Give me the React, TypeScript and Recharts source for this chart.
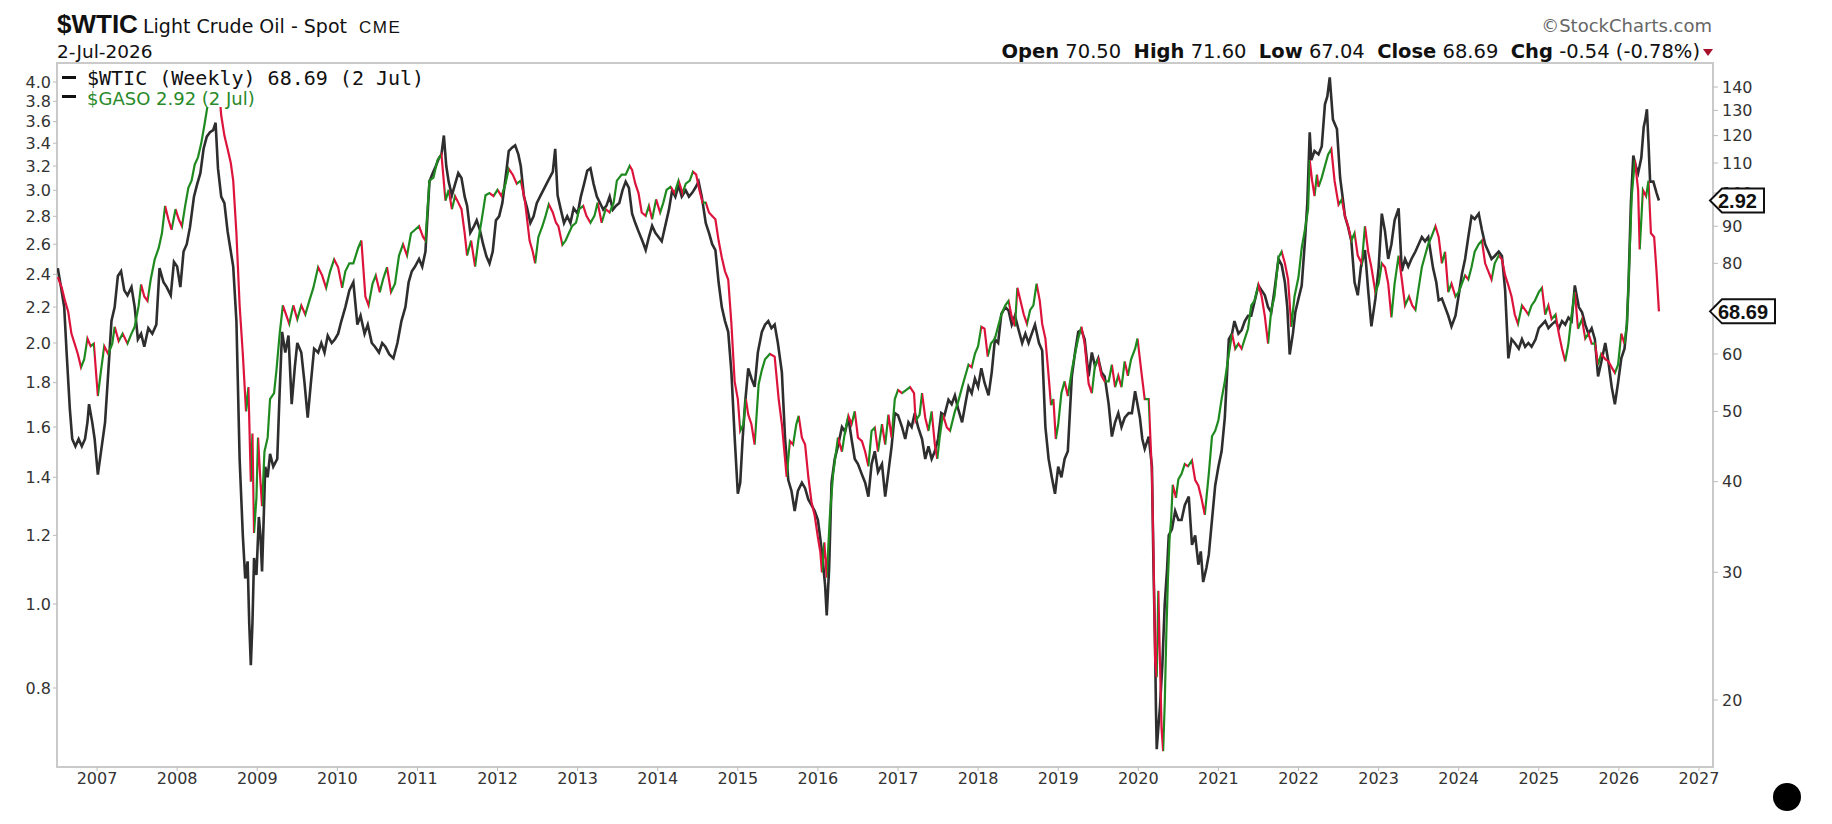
import React from 'react';
import { LineChart, Line, XAxis, YAxis, ReferenceDot } from 'recharts';

// ---------- DATA ----------
const wticDates = [
  2006.51, 2006.56, 2006.60, 2006.64, 2006.68, 2006.72, 2006.76, 2006.80, 2006.84, 2006.88, 2006.92, 2006.96,
  2007.01, 2007.05, 2007.09, 2007.14, 2007.19, 2007.22, 2007.27, 2007.32, 2007.38, 2007.43, 2007.47, 2007.52,
  2007.55, 2007.59, 2007.63, 2007.67, 2007.72, 2007.77, 2007.81, 2007.85, 2007.89, 2007.93, 2007.98,
  2008.02, 2008.06, 2008.10, 2008.14, 2008.18, 2008.22, 2008.26, 2008.30, 2008.34, 2008.38, 2008.43, 2008.47,
  2008.51, 2008.55, 2008.59, 2008.63, 2008.67, 2008.70, 2008.74, 2008.78, 2008.82, 2008.86, 2008.89, 2008.92,
  2008.94, 2008.96, 2008.99, 2009.01, 2009.04, 2009.06, 2009.09, 2009.13, 2009.16, 2009.21, 2009.24, 2009.28,
  2009.32, 2009.36, 2009.40, 2009.45, 2009.50, 2009.55, 2009.60, 2009.65, 2009.70, 2009.76, 2009.81, 2009.86,
  2009.91, 2009.96, 2010.01, 2010.06, 2010.10, 2010.15, 2010.20, 2010.26, 2010.30, 2010.35, 2010.39, 2010.44,
  2010.48, 2010.53, 2010.57, 2010.62, 2010.67, 2010.72, 2010.77, 2010.82, 2010.87, 2010.92, 2010.97,
  2011.02, 2011.07, 2011.10, 2011.15, 2011.20, 2011.25, 2011.30, 2011.35, 2011.39, 2011.43, 2011.47, 2011.51,
  2011.55, 2011.59, 2011.62, 2011.67, 2011.72, 2011.76, 2011.81, 2011.85, 2011.90, 2011.95,
  2012.00, 2012.05, 2012.10, 2012.14, 2012.19, 2012.24, 2012.29, 2012.34, 2012.40, 2012.44, 2012.47, 2012.51,
  2012.56, 2012.60, 2012.64, 2012.69, 2012.73, 2012.76, 2012.81, 2012.85, 2012.89, 2012.93, 2012.98,
  2013.02, 2013.07, 2013.11, 2013.16, 2013.21, 2013.25, 2013.30, 2013.35, 2013.40, 2013.45, 2013.49, 2013.55,
  2013.60, 2013.65, 2013.68, 2013.72, 2013.76, 2013.80, 2013.85, 2013.89, 2013.93, 2013.98,
  2014.03, 2014.07, 2014.11, 2014.16, 2014.21, 2014.26, 2014.31, 2014.35, 2014.40, 2014.44, 2014.48, 2014.52,
  2014.56, 2014.60, 2014.64, 2014.68, 2014.72, 2014.76, 2014.80, 2014.84, 2014.88, 2014.92, 2014.96,
  2015.00, 2015.03, 2015.07, 2015.10, 2015.13, 2015.17, 2015.21, 2015.26, 2015.30, 2015.34, 2015.40, 2015.46,
  2015.51, 2015.55, 2015.61, 2015.65, 2015.69, 2015.73, 2015.76, 2015.80, 2015.84, 2015.88, 2015.92, 2015.96,
  2016.00, 2016.03, 2016.05, 2016.08, 2016.11, 2016.15, 2016.19, 2016.25, 2016.30, 2016.34, 2016.38, 2016.42,
  2016.46, 2016.50, 2016.55, 2016.59, 2016.63, 2016.67, 2016.71, 2016.75, 2016.80, 2016.84, 2016.88, 2016.92, 2016.96,
  2017.00, 2017.05, 2017.10, 2017.15, 2017.20, 2017.22, 2017.27, 2017.30, 2017.34, 2017.38, 2017.42, 2017.46,
  2017.49, 2017.52, 2017.56, 2017.61, 2017.65, 2017.71, 2017.75, 2017.80, 2017.84, 2017.88, 2017.92, 2017.96,
  2018.00, 2018.04, 2018.08, 2018.12, 2018.16, 2018.21, 2018.25, 2018.29, 2018.34, 2018.38, 2018.42, 2018.46,
  2018.49, 2018.53, 2018.57, 2018.61, 2018.65, 2018.69, 2018.73, 2018.77, 2018.80, 2018.84, 2018.88, 2018.91,
  2018.94, 2018.97, 2019.00, 2019.04, 2019.08, 2019.12, 2019.17, 2019.21, 2019.25, 2019.29, 2019.33, 2019.38,
  2019.42, 2019.46, 2019.50, 2019.54, 2019.58, 2019.63, 2019.67, 2019.71, 2019.75, 2019.79, 2019.83, 2019.87,
  2019.91, 2019.96, 2019.99, 2020.04, 2020.08, 2020.13, 2020.17, 2020.19, 2020.21, 2020.23, 2020.25, 2020.27,
  2020.29, 2020.31, 2020.33, 2020.35, 2020.37, 2020.39, 2020.41, 2020.43, 2020.47, 2020.50, 2020.54, 2020.58,
  2020.62, 2020.67, 2020.71, 2020.75, 2020.79, 2020.83, 2020.88, 2020.92, 2020.96, 2021.00, 2021.04, 2021.08,
  2021.12, 2021.17, 2021.21, 2021.25, 2021.29, 2021.33, 2021.37, 2021.41, 2021.45, 2021.50, 2021.54, 2021.58,
  2021.62, 2021.66, 2021.70, 2021.75, 2021.79, 2021.83, 2021.87, 2021.91, 2021.95, 2022.00, 2022.04, 2022.08,
  2022.12, 2022.14, 2022.17, 2022.20, 2022.23, 2022.25, 2022.29, 2022.33, 2022.37, 2022.41, 2022.45, 2022.50,
  2022.54, 2022.58, 2022.62, 2022.66, 2022.70, 2022.74, 2022.79, 2022.83, 2022.87, 2022.91, 2022.96,
  2023.00, 2023.04, 2023.08, 2023.12, 2023.16, 2023.20, 2023.25, 2023.29, 2023.33, 2023.38, 2023.42, 2023.46,
  2023.50, 2023.54, 2023.58, 2023.62, 2023.66, 2023.71, 2023.75, 2023.79, 2023.83, 2023.87, 2023.91, 2023.96,
  2024.00, 2024.04, 2024.08, 2024.12, 2024.16, 2024.20, 2024.25, 2024.29, 2024.33, 2024.37, 2024.41, 2024.45,
  2024.50, 2024.54, 2024.58, 2024.62, 2024.66, 2024.70, 2024.74, 2024.79, 2024.83, 2024.87, 2024.91, 2024.95,
  2025.00, 2025.04, 2025.08, 2025.12, 2025.16, 2025.21, 2025.25, 2025.29, 2025.33, 2025.37, 2025.41, 2025.45,
  2025.49, 2025.54, 2025.58, 2025.62, 2025.66, 2025.70, 2025.74, 2025.78, 2025.83, 2025.87, 2025.91, 2025.95,
  2025.99, 2026.03, 2026.07, 2026.10, 2026.12, 2026.16, 2026.20, 2026.24, 2026.26, 2026.30, 2026.34, 2026.37,
  2026.40, 2026.44, 2026.47, 2026.50,
];
const wticValues = [
  76.6, 74, 71, 68.6, 64, 62, 60, 57.5, 59, 63, 61.5, 62,
  52.5, 57, 61.5, 60, 62, 65.4, 62.5, 64, 62, 64, 65.4, 70,
  74.8, 72, 71, 76, 81, 84, 88, 96, 92, 89, 95,
  92, 90, 96, 101.7, 104, 109.5, 112, 117, 124, 132, 136, 140,
  145, 128, 120, 115, 110, 104, 88, 70, 60, 50, 54, 40,
  46.6, 34, 38, 46, 40, 37, 44, 46, 52, 53, 57, 64,
  70, 68, 66, 70, 67, 70, 68, 71, 74, 79, 77, 74,
  78, 81, 79, 74, 78, 80, 80, 84, 86, 72, 70, 75,
  77, 73, 76, 79, 73, 75, 82, 85, 82, 88, 89,
  90, 87, 86, 104, 105, 111, 113, 97.6, 101, 95, 99, 97,
  95, 88, 82, 86, 79.2, 86, 93, 99.3, 100, 99,
  101, 99, 103, 108, 106, 103, 104, 98, 86, 83, 80, 87,
  90, 93, 96.5, 94, 91, 90, 84.8, 86, 88, 90, 91,
  95, 96, 93, 91, 93, 97, 91, 95, 94, 97, 104, 106,
  106, 109, 107.6, 103, 100, 94, 93, 96, 92, 98,
  94, 97, 101, 102, 100, 104, 100, 103, 104, 107, 106, 101,
  97, 97, 94, 93, 92, 86, 81.5, 78, 76, 66, 55,
  52, 47, 48, 52, 49.5, 48, 45, 54.5, 57, 59, 60, 59.5,
  52, 48, 40.6, 45.5, 45, 48, 49.3, 46, 45, 40.6, 37.5, 35.9,
  33.5, 32, 30, 33, 29.5, 36, 41, 46, 44, 47, 49.3, 48,
  50, 46, 45.5, 44, 42, 47, 47.5, 44, 48, 45, 49.5, 46, 52,
  53.5, 53, 53.5, 54, 53, 48.5, 49.5, 53, 49, 47, 50, 45,
  43, 46, 49.5, 47.5, 47, 50, 51.5, 54, 56, 58, 57.5, 60,
  61.5, 65.4, 65, 59.5, 62, 63, 65.5, 68, 70, 71, 67.5, 65.5,
  74, 71, 68, 66, 69, 70, 75, 71, 66, 63, 56, 51,
  52, 45.8, 48, 53, 55, 52.5, 57, 60, 63, 65.4, 62, 54.6,
  53, 58, 59, 56, 55, 55, 58, 54, 56, 54, 58.6, 56,
  59, 61, 63, 56.5, 52, 52, 41, 31.7, 22.6, 21.5, 28.3, 22.8,
  18.3, 17.0, 19.8, 24.7, 29.4, 33.3, 35.5, 39.6, 38, 40.3, 41, 42.3,
  42, 42.8, 40.2, 39.5, 37.9, 36, 41, 46.2, 47, 48.6, 52, 55,
  59, 64, 61, 62, 61, 63, 65, 70, 71, 74.7, 72, 67.6,
  62, 69, 72, 81.5, 83, 80, 76, 65.4, 72, 76.6, 84, 89,
  95, 111, 104, 99, 106, 102, 105, 109, 113, 115, 104, 96.4,
  98, 93, 90, 86, 88, 82, 80, 90, 83, 79, 73,
  75, 80, 79, 75, 67.4, 75, 82, 76, 70, 72, 70, 69,
  74, 79, 82, 85, 87, 90, 87, 80, 83, 73, 75, 72,
  73, 75, 77, 76, 79, 83, 85, 86, 80, 78, 76, 80,
  82, 81, 77, 74.6, 72, 68, 66, 70, 69, 68, 70, 71,
  73, 74, 68, 70, 67, 68, 64, 61, 58.6, 62, 68, 73,
  65, 67, 63, 64, 62, 62, 58, 60, 59, 58.6, 57.5, 56.5,
  58, 64, 62, 66, 74.8, 99, 111, 101, 83.6, 101, 99, 104,
  88, 87, 78, 68.69,
];

const gasoDates = [
  2006.51, 2006.55, 2006.59, 2006.62, 2006.66, 2006.69, 2006.73, 2006.77, 2006.81, 2006.85, 2006.88, 2006.90,
  2006.94, 2006.97, 2007.01, 2007.05, 2007.10, 2007.14, 2007.18, 2007.22, 2007.26, 2007.30, 2007.34, 2007.38,
  2007.43, 2007.47, 2007.51, 2007.55, 2007.59, 2007.64, 2007.69, 2007.74, 2007.78, 2007.83, 2007.87, 2007.92, 2007.96,
  2008.00, 2008.04, 2008.08, 2008.12, 2008.16, 2008.21, 2008.25, 2008.29, 2008.33, 2008.37, 2008.41, 2008.45,
  2008.48, 2008.51, 2008.55, 2008.59, 2008.63, 2008.67, 2008.70, 2008.74, 2008.78, 2008.82, 2008.85, 2008.88,
  2008.90, 2008.92, 2008.94, 2008.96, 2008.99, 2009.02, 2009.04, 2009.06, 2009.08, 2009.10, 2009.13, 2009.16,
  2009.20, 2009.25, 2009.28, 2009.31, 2009.35, 2009.39, 2009.43, 2009.47, 2009.50, 2009.55, 2009.59, 2009.63,
  2009.67, 2009.71, 2009.76, 2009.80, 2009.84, 2009.88, 2009.93, 2009.97,
  2010.01, 2010.05, 2010.10, 2010.15, 2010.20, 2010.25, 2010.29, 2010.34, 2010.38, 2010.43, 2010.47, 2010.52,
  2010.56, 2010.60, 2010.65, 2010.70, 2010.75, 2010.80, 2010.85, 2010.89, 2010.93, 2010.97,
  2011.02, 2011.06, 2011.10, 2011.15, 2011.19, 2011.23, 2011.27, 2011.30, 2011.33, 2011.36, 2011.39, 2011.43,
  2011.47, 2011.51, 2011.55, 2011.59, 2011.62, 2011.66, 2011.70, 2011.74, 2011.78, 2011.82, 2011.86, 2011.90,
  2011.94, 2011.98, 2012.02, 2012.06, 2012.10, 2012.14, 2012.18, 2012.22, 2012.26, 2012.29, 2012.33, 2012.37,
  2012.41, 2012.45, 2012.49, 2012.53, 2012.57, 2012.61, 2012.65, 2012.69, 2012.72, 2012.75, 2012.79, 2012.83,
  2012.87, 2012.91, 2012.95, 2013.00, 2013.04, 2013.08, 2013.12, 2013.16, 2013.20, 2013.24, 2013.28, 2013.32,
  2013.36, 2013.40, 2013.44, 2013.48, 2013.52, 2013.56, 2013.60, 2013.64, 2013.68, 2013.72, 2013.76, 2013.81,
  2013.85, 2013.89, 2013.93, 2013.97, 2014.01, 2014.05, 2014.09, 2014.14, 2014.18, 2014.22, 2014.26, 2014.30,
  2014.35, 2014.39, 2014.43, 2014.47, 2014.51, 2014.55, 2014.60, 2014.64, 2014.68, 2014.72, 2014.76, 2014.80,
  2014.84, 2014.88, 2014.92, 2014.96, 2015.00, 2015.03, 2015.06, 2015.09, 2015.13, 2015.17, 2015.21, 2015.25,
  2015.30, 2015.34, 2015.38, 2015.42, 2015.46, 2015.50, 2015.55, 2015.59, 2015.63, 2015.67, 2015.71, 2015.75,
  2015.80, 2015.84, 2015.88, 2015.92, 2015.96, 2016.00, 2016.05, 2016.09, 2016.11, 2016.14, 2016.17, 2016.21,
  2016.25, 2016.30, 2016.34, 2016.38, 2016.42, 2016.46, 2016.50, 2016.55, 2016.59, 2016.63, 2016.67, 2016.71,
  2016.75, 2016.80, 2016.84, 2016.88, 2016.92, 2016.96, 2017.00, 2017.05, 2017.09, 2017.13, 2017.17, 2017.21,
  2017.25, 2017.30, 2017.34, 2017.38, 2017.42, 2017.46, 2017.50, 2017.54, 2017.58, 2017.63, 2017.67, 2017.71,
  2017.75, 2017.80, 2017.84, 2017.88, 2017.92, 2017.96, 2018.00, 2018.04, 2018.08, 2018.13, 2018.17, 2018.21,
  2018.25, 2018.29, 2018.34, 2018.38, 2018.42, 2018.46, 2018.50, 2018.55, 2018.59, 2018.63, 2018.67, 2018.71,
  2018.76, 2018.80, 2018.84, 2018.88, 2018.92, 2018.96, 2019.00, 2019.04, 2019.08, 2019.12, 2019.17, 2019.21,
  2019.25, 2019.29, 2019.33, 2019.38, 2019.42, 2019.46, 2019.50, 2019.54, 2019.58, 2019.63, 2019.67, 2019.71,
  2019.75, 2019.79, 2019.83, 2019.88, 2019.92, 2019.96, 2020.02, 2020.05, 2020.08, 2020.13, 2020.17, 2020.19,
  2020.21, 2020.22, 2020.23, 2020.25, 2020.27, 2020.30, 2020.33, 2020.36, 2020.38, 2020.42, 2020.46, 2020.50,
  2020.54, 2020.58, 2020.63, 2020.67, 2020.71, 2020.75, 2020.78, 2020.81, 2020.85, 2020.88, 2020.92, 2020.96,
  2021.00, 2021.04, 2021.08, 2021.13, 2021.17, 2021.20, 2021.25, 2021.29, 2021.33, 2021.37, 2021.41, 2021.46,
  2021.50, 2021.54, 2021.58, 2021.62, 2021.66, 2021.70, 2021.75, 2021.79, 2021.83, 2021.86, 2021.89, 2021.93,
  2021.96, 2022.00, 2022.04, 2022.08, 2022.11, 2022.14, 2022.16, 2022.20, 2022.25, 2022.29, 2022.33, 2022.36,
  2022.39, 2022.43, 2022.48, 2022.52, 2022.55, 2022.58, 2022.62, 2022.66, 2022.70, 2022.74, 2022.78, 2022.83,
  2022.87, 2022.91, 2022.96, 2023.00, 2023.04, 2023.08, 2023.12, 2023.16, 2023.20, 2023.25, 2023.29, 2023.33,
  2023.37, 2023.41, 2023.46, 2023.50, 2023.54, 2023.58, 2023.62, 2023.68, 2023.72, 2023.75, 2023.79, 2023.83,
  2023.87, 2023.91, 2023.96, 2024.00, 2024.04, 2024.08, 2024.12, 2024.16, 2024.20, 2024.25, 2024.29, 2024.33,
  2024.37, 2024.41, 2024.45, 2024.50, 2024.54, 2024.58, 2024.62, 2024.66, 2024.70, 2024.75, 2024.79, 2024.83,
  2024.87, 2024.91, 2024.96, 2025.00, 2025.04, 2025.08, 2025.12, 2025.16, 2025.21, 2025.25, 2025.29, 2025.33,
  2025.37, 2025.41, 2025.45, 2025.50, 2025.54, 2025.58, 2025.62, 2025.66, 2025.70, 2025.74, 2025.78, 2025.83,
  2025.87, 2025.91, 2025.95, 2025.99, 2026.03, 2026.07, 2026.10, 2026.12, 2026.15, 2026.18, 2026.21, 2026.24,
  2026.28, 2026.31, 2026.33, 2026.35, 2026.37, 2026.39, 2026.43, 2026.47, 2026.50,
];
const gasoValues = [
  2.44, 2.32, 2.2, 1.95, 1.68, 1.55, 1.52, 1.55, 1.52, 1.55, 1.62, 1.70,
  1.62, 1.55, 1.41, 1.50, 1.62, 1.85, 2.12, 2.2, 2.39, 2.42, 2.3, 2.27,
  2.32, 2.2, 2.02, 2.05, 1.98, 2.08, 2.05, 2.10, 2.44, 2.35, 2.32, 2.27, 2.48,
  2.45, 2.32, 2.55, 2.60, 2.72, 2.95, 3.05, 3.14, 3.35, 3.46, 3.5, 3.52,
  3.59, 3.18, 2.95, 2.9, 2.69, 2.55, 2.45, 2.12, 1.47, 1.2, 1.07, 1.12,
  0.95, 0.85, 0.95, 1.13, 1.08, 1.26, 1.2, 1.09, 1.25, 1.44, 1.40, 1.49,
  1.44, 1.47, 1.76, 2.06, 1.95, 2.04, 1.70, 1.88, 2.0, 1.95, 1.8, 1.64,
  1.8, 1.97, 1.95, 2.0, 1.95, 2.04, 2.0, 2.02,
  2.05, 2.12, 2.2, 2.3, 2.35, 2.1, 2.15, 2.05, 2.1, 2.0, 1.98, 1.95,
  2.0, 1.98, 1.94, 1.92, 2.0, 2.12, 2.2, 2.35, 2.42, 2.45,
  2.5, 2.45, 2.55, 3.07, 3.14, 3.2, 3.27, 3.3, 3.47, 3.2, 3.07, 2.96,
  3.05, 3.14, 3.1, 2.95, 2.88, 2.68, 2.72, 2.77, 2.70, 2.6, 2.52, 2.47,
  2.55, 2.77, 2.8, 2.9, 3.1, 3.33, 3.36, 3.38, 3.3, 3.2, 2.95, 2.86,
  2.75, 2.8, 2.9, 2.95, 3.0, 3.05, 3.1, 3.15, 3.35, 2.96, 2.85, 2.75,
  2.8, 2.75, 2.86, 2.82, 2.95, 3.05, 3.16, 3.18, 3.05, 2.95, 2.9, 2.85,
  2.88, 2.95, 2.85, 2.88, 2.9, 3.0, 3.07, 3.02, 2.82, 2.75, 2.69, 2.62,
  2.56, 2.65, 2.73, 2.68, 2.65, 2.62, 2.72, 2.85, 3.0, 2.95, 3.04, 2.95,
  3.0, 2.95, 2.98, 3.02, 3.07, 2.95, 2.75, 2.68, 2.6, 2.56, 2.35, 2.2,
  2.12, 2.06, 1.85, 1.56, 1.34, 1.38, 1.55, 1.70, 1.87, 1.82, 1.78, 1.95,
  2.06, 2.1, 2.12, 2.08, 2.1, 2.0, 1.85, 1.55, 1.39, 1.35, 1.28, 1.35,
  1.38, 1.36, 1.32, 1.30, 1.28, 1.25, 1.15, 1.05, 0.97, 1.1, 1.38, 1.47,
  1.52, 1.6, 1.58, 1.64, 1.55, 1.47, 1.45, 1.41, 1.38, 1.33, 1.45, 1.5,
  1.42, 1.45, 1.33, 1.42, 1.52, 1.66, 1.65, 1.6, 1.55, 1.62, 1.6, 1.66,
  1.6, 1.55, 1.47, 1.52, 1.47, 1.5, 1.55, 1.66, 1.65, 1.72, 1.70, 1.74,
  1.68, 1.62, 1.7, 1.78, 1.75, 1.82, 1.78, 1.87, 1.8, 1.74, 1.85, 2.02,
  2.0, 2.16, 2.2, 2.18, 2.1, 2.15, 2.08, 2.0, 2.05, 2.0, 2.05, 2.1,
  2.0, 1.96, 1.6, 1.47, 1.4, 1.34, 1.44, 1.40, 1.47, 1.5, 1.83, 1.95,
  2.06, 2.07, 2.02, 1.83, 1.95, 1.88, 1.92, 1.85, 1.83, 1.7, 1.56, 1.62,
  1.66, 1.6, 1.64, 1.66, 1.66, 1.76, 1.64, 1.55, 1.51, 1.56, 1.44, 1.1,
  0.89, 0.76, 0.68, 0.72, 0.76, 0.85, 1.0, 1.1, 1.20, 1.22, 1.28, 1.25,
  1.25, 1.3, 1.33, 1.17, 1.2, 1.11, 1.15, 1.06, 1.1, 1.14, 1.25, 1.37,
  1.44, 1.5, 1.64, 2.02, 2.05, 2.12, 2.05, 2.07, 2.12, 2.15, 2.15, 2.25,
  2.33, 2.3, 2.27, 2.2, 2.17, 2.3, 2.5, 2.46, 2.35, 2.2, 1.94, 2.05,
  2.17, 2.25, 2.33, 2.62, 2.9, 3.5, 3.25, 3.33, 3.3, 3.37, 3.77, 3.85,
  4.05, 3.62, 3.53, 3.1, 2.95, 2.8, 2.72, 2.62, 2.35, 2.27, 2.45, 2.56,
  2.3, 2.09, 2.25, 2.44, 2.82, 2.69, 2.5, 2.6, 2.77, 2.86, 2.42, 2.5,
  2.45, 2.5, 2.55, 2.6, 2.65, 2.62, 2.65, 2.44, 2.35, 2.24, 2.25, 2.2,
  2.15, 2.09, 2.15, 2.27, 2.4, 2.5, 2.65, 2.8, 2.78, 2.82, 2.7, 2.6,
  2.55, 2.5, 2.52, 2.55, 2.52, 2.3, 1.92, 2.02, 2.0, 1.97, 2.02, 1.98,
  2.0, 1.98, 2.02, 2.08, 2.1, 2.12, 2.08, 2.1, 2.12, 2.08, 2.12, 2.1,
  2.14, 2.12, 2.33, 2.2, 2.17, 2.1, 2.05, 2.08, 2.02, 1.83, 1.9, 2.0,
  1.9, 1.78, 1.70, 1.8, 1.92, 1.97, 2.1, 2.33, 2.9, 3.29, 3.2, 3.14,
  3.27, 3.55, 3.62, 3.72, 3.4, 3.07, 3.07, 2.98, 2.92,
];

const yearTicks = [2007, 2008, 2009, 2010, 2011, 2012, 2013, 2014, 2015, 2016, 2017, 2018, 2019, 2020, 2021, 2022, 2023, 2024, 2025, 2026, 2027];
const gasoTicks = [0.8, 1.0, 1.2, 1.4, 1.6, 1.8, 2.0, 2.2, 2.4, 2.6, 2.8, 3.0, 3.2, 3.4, 3.6, 3.8, 4.0];
const wticTicks = [20, 30, 40, 50, 60, 70, 80, 90, 100, 110, 120, 130, 140];

const ohlcLabels = ['Open', 'High', 'Low', 'Close', 'Chg'];
const ohlcValues = ['70.50', '71.60', '67.04', '68.69', '-0.54 (-0.78%)'];
const wticLegend = '$WTIC (Weekly) 68.69 (2 Jul)';
const gasoLegend = '$GASO 2.92 (2 Jul)';

// ---------- STYLE ----------
const X_DOMAIN: [number, number] = [2006.5, 2027.175];
const GASO_DOMAIN: [number, number] = [0.6486, 4.207];
const WTIC_DOMAIN: [number, number] = [16.17, 151.1];
const GREEN = '#1f8a1f';
const RED = '#dc143c';
const TICK_STYLE = { fontFamily: 'DejaVu Sans', fontSize: 16, fill: '#333' };
const CHART_MARGIN = { top: 63, right: 0, bottom: 0, left: 0 };

const wticData = wticDates.map((t, i) => ({ t, v: wticValues[i] }));
const gasoData = gasoDates.map((t, i) => ({ t, v: gasoValues[i] }));

const buildStops = () => {
  const t0 = wticDates[0];
  const tN = wticDates[wticDates.length - 1];
  const stops: React.ReactElement[] = [];
  for (let i = 0; i < wticDates.length - 1; i++) {
    const c = wticValues[i + 1] >= wticValues[i] ? GREEN : RED;
    const o1 = (wticDates[i] - t0) / (tN - t0);
    const o2 = (wticDates[i + 1] - t0) / (tN - t0);
    stops.push(<stop key={`a${i}`} offset={o1} stopColor={c} />);
    stops.push(<stop key={`b${i}`} offset={o2} stopColor={c} />);
  }
  return stops;
};

const Tag = (props: any) => {
  const { cx, cy, text } = props;
  if (cx == null || cy == null) return null;
  const w = 7 + 11 * text.length;
  const h = 12;
  return (
    <g>
      <polygon
        points={`${cx - 3},${cy} ${cx + 9},${cy - h} ${cx + w},${cy - h} ${cx + w},${cy + h} ${cx + 9},${cy + h}`}
        fill="#fff"
        stroke="#111"
        strokeWidth={2}
      />
      <text x={cx + 5} y={cy} dy="0.36em" fontFamily="Liberation Sans, Arial" fontWeight="bold" fontSize={20} fill="#111">
        {text}
      </text>
    </g>
  );
};

// Axes shared by the main chart and the tag overlay (overlay axes are drawn invisibly)
const renderAxes = (visible: boolean) => [
  <XAxis
    key="x"
    dataKey="t"
    type="number"
    domain={X_DOMAIN}
    allowDataOverflow
    ticks={yearTicks}
    interval={0}
    height={57}
    axisLine={false}
    tickLine={visible ? { stroke: '#bbb' } : false}
    tickSize={4}
    tickMargin={2}
    tick={visible ? TICK_STYLE : false}
    tickFormatter={(v: number) => String(v)}
  />,
  <YAxis
    key="yl"
    yAxisId="gaso"
    orientation="left"
    type="number"
    scale="log"
    domain={GASO_DOMAIN}
    allowDataOverflow
    ticks={gasoTicks}
    interval={0}
    width={57}
    axisLine={false}
    tickLine={visible ? { stroke: '#bbb' } : false}
    tickSize={4}
    tickMargin={2}
    tick={visible ? TICK_STYLE : false}
    tickFormatter={(v: number) => v.toFixed(1)}
  />,
  <YAxis
    key="yr"
    yAxisId="wtic"
    orientation="right"
    type="number"
    scale="log"
    domain={WTIC_DOMAIN}
    allowDataOverflow
    ticks={wticTicks}
    interval={0}
    width={119}
    axisLine={false}
    tickLine={visible ? { stroke: '#bbb' } : false}
    tickSize={5}
    tickMargin={4}
    tick={visible ? TICK_STYLE : false}
  />,
];

export default function App() {
  const lastGaso = gasoValues[gasoValues.length - 1];
  const lastWtic = wticValues[wticValues.length - 1];
  return (
    <div style={{ position: 'absolute', left: 0, top: 0, width: 1832, height: 824, background: '#fff' }}>
      <div
        style={{
          position: 'absolute', left: 56, top: 62, width: 1658, height: 706,
          border: '2px solid #cacaca', boxSizing: 'border-box',
        }}
      />
      <div style={{ position: 'absolute', left: 0, top: 0 }}>
        <LineChart width={1832} height={824} margin={CHART_MARGIN}>
          <defs>
            <linearGradient id="wticGrad" x1="0" y1="0" x2="1" y2="0">
              {buildStops()}
            </linearGradient>
          </defs>
          {renderAxes(true)}
          <Line
            data={gasoData}
            dataKey="v"
            yAxisId="gaso"
            type="linear"
            stroke="#2e2e2e"
            strokeWidth={2.6}
            dot={false}
            isAnimationActive={false}
          />
          <Line
            data={wticData}
            dataKey="v"
            yAxisId="wtic"
            type="linear"
            stroke="url(#wticGrad)"
            strokeWidth={2.2}
            dot={false}
            isAnimationActive={false}
          />
        </LineChart>
      </div>
      <svg
        width={1832}
        height={824}
        style={{ position: 'absolute', left: 0, top: 0, pointerEvents: 'none' }}
      >
        <text x={57} y={33} fontFamily="Liberation Sans, Arial" fontWeight="bold" fontSize={26} fill="#111">$WTIC</text>
        <text x={143} y={33} fontFamily="DejaVu Sans" fontSize={19} fill="#111">Light Crude Oil - Spot</text>
        <text x={359} y={33} fontFamily="Liberation Sans, Arial" fontSize={17} letterSpacing={1.5} fill="#111">CME</text>
        <text x={57} y={58} fontFamily="DejaVu Sans" fontSize={18.5} fill="#111">2-Jul-2026</text>
        <text x={1712} y={32} textAnchor="end" fontFamily="DejaVu Sans" fontSize={18} fill="#666">©StockCharts.com</text>
        <text x={1700} y={58} textAnchor="end" fontFamily="DejaVu Sans" fontSize={19.5} fill="#111" style={{ whiteSpace: 'pre' }}>
          {ohlcLabels.map((l, i) => (
            <React.Fragment key={l}>
              <tspan fontWeight="bold">{l}</tspan>
              <tspan>{` ${ohlcValues[i]}${i < ohlcLabels.length - 1 ? '  ' : ''}`}</tspan>
            </React.Fragment>
          ))}
        </text>
        <polygon points="1703,49 1713,49 1708,56" fill="#a8102a" />
        <rect x={58} y={64} width={372} height={43} fill="#fff" />
        <rect x={62} y={76} width={14} height={3} fill="#111" />
        <text x={87} y={85} fontFamily="DejaVu Sans Mono" fontSize={20} fill="#111">{wticLegend}</text>
        <rect x={62} y={95} width={14} height={3} fill="#111" />
        <text x={87} y={105} fontFamily="DejaVu Sans" fontSize={18} fill="#2a8a2a">{gasoLegend}</text>
      </svg>
      <div style={{ position: 'absolute', left: 0, top: 0, pointerEvents: 'none' }}>
        <LineChart width={1832} height={824} margin={CHART_MARGIN} data={wticData}>
          {renderAxes(false)}
          <ReferenceDot
            yAxisId="gaso"
            x={X_DOMAIN[1]}
            y={lastGaso}
            r={0}
            ifOverflow="visible"
            shape={(p: any) => <Tag cx={p.cx} cy={p.cy} text={lastGaso.toFixed(2)} />}
          />
          <ReferenceDot
            yAxisId="wtic"
            x={X_DOMAIN[1]}
            y={lastWtic}
            r={0}
            ifOverflow="visible"
            shape={(p: any) => <Tag cx={p.cx} cy={p.cy} text={lastWtic.toFixed(2)} />}
          />
        </LineChart>
      </div>
      <div
        style={{
          position: 'absolute', left: 1773, top: 783, width: 28, height: 28,
          borderRadius: '50%', background: '#000',
        }}
      />
    </div>
  );
}
